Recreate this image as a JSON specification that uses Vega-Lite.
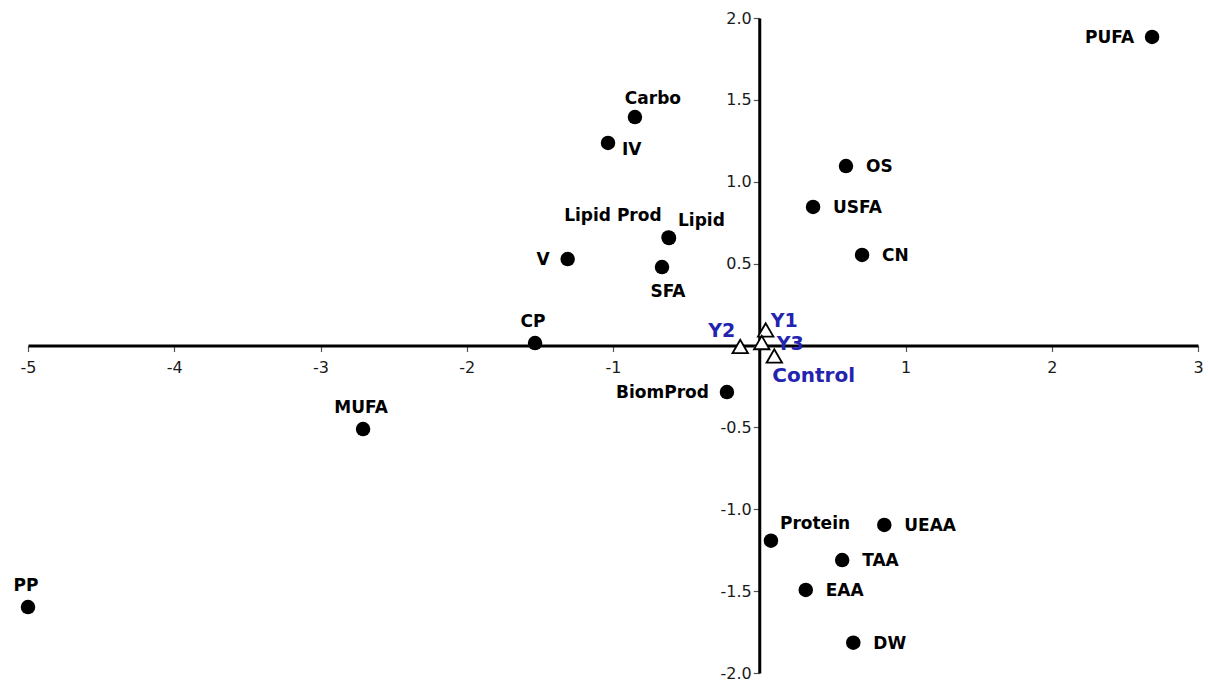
{
  "$schema": "https://vega.github.io/schema/vega-lite/v6.json",
  "autosize": "none",
  "width": 1170,
  "height": 655,
  "padding": {"left": 28, "top": 18, "right": 10, "bottom": 11},
  "background": "white",
  "config": {
    "view": {"stroke": null},
    "text": {"font": "DejaVu Sans", "fontWeight": "bold", "fontSize": 17, "color": "black", "baseline": "middle"}
  },
  "data": {
    "values": [
      {"name": "PUFA", "x": 2.686, "y": 1.884, "group": "variable"},
      {"name": "Carbo", "x": -0.850, "y": 1.395, "group": "variable"},
      {"name": "IV", "x": -1.034, "y": 1.237, "group": "variable"},
      {"name": "OS", "x": 0.593, "y": 1.096, "group": "variable"},
      {"name": "USFA", "x": 0.368, "y": 0.846, "group": "variable"},
      {"name": "Lipid", "x": -0.617, "y": 0.656, "group": "variable"},
      {"name": "Lipid Prod", "x": -0.62, "y": 0.66, "group": "variable"},
      {"name": "V", "x": -1.31, "y": 0.528, "group": "variable"},
      {"name": "SFA", "x": -0.665, "y": 0.479, "group": "variable"},
      {"name": "CN", "x": 0.703, "y": 0.553, "group": "variable"},
      {"name": "CP", "x": -1.533, "y": 0.015, "group": "variable"},
      {"name": "BiomProd", "x": -0.221, "y": -0.284, "group": "variable"},
      {"name": "MUFA", "x": -2.709, "y": -0.510, "group": "variable"},
      {"name": "PP", "x": -5.0, "y": -1.597, "group": "variable"},
      {"name": "Protein", "x": 0.080, "y": -1.192, "group": "variable"},
      {"name": "UEAA", "x": 0.855, "y": -1.096, "group": "variable"},
      {"name": "TAA", "x": 0.567, "y": -1.310, "group": "variable"},
      {"name": "EAA", "x": 0.318, "y": -1.493, "group": "variable"},
      {"name": "DW", "x": 0.643, "y": -1.815, "group": "variable"},
      {"name": "Y1", "x": 0.044, "y": 0.095, "group": "treatment"},
      {"name": "Y2", "x": -0.13, "y": -0.006, "group": "treatment"},
      {"name": "Y3", "x": 0.017, "y": 0.018, "group": "treatment"},
      {"name": "Control", "x": 0.103, "y": -0.064, "group": "treatment"}
    ]
  },
  "encoding": {
    "x": {
      "field": "x", "type": "quantitative",
      "scale": {"domain": [-5, 3], "nice": false, "zero": false},
      "axis": {
        "title": null, "grid": false, "orient": "bottom", "offset": -327.5,
        "values": [-5, -4, -3, -2, -1, 0, 1, 2, 3],
        "labelExpr": "datum.value == 0 ? '' : datum.value + ''",
        "domainColor": "black", "domainWidth": 3,
        "tickColor": "#555", "tickWidth": 1.2, "tickSize": 6,
        "labelFont": "DejaVu Sans", "labelFontSize": 16, "labelColor": "#1a1a1a",
        "labelPadding": 8, "labelFlush": false, "labelOverlap": false
      }
    },
    "y": {
      "field": "y", "type": "quantitative",
      "scale": {"domain": [-2, 2], "nice": false, "zero": false},
      "axis": {
        "title": null, "grid": false, "orient": "left", "offset": -731.25,
        "values": [-2, -1.5, -1, -0.5, 0, 0.5, 1, 1.5, 2],
        "labelExpr": "datum.value == 0 ? '' : (datum.value % 1 == 0 ? datum.value + '.0' : datum.value + '')",
        "domainColor": "black", "domainWidth": 3,
        "tickColor": "#555", "tickWidth": 1.2, "tickSize": 6,
        "labelFont": "DejaVu Sans", "labelFontSize": 16, "labelColor": "#1a1a1a",
        "labelPadding": 2, "labelFlush": false, "labelOverlap": false
      }
    }
  },
  "layer": [
    {
      "transform": [{"filter": "datum.group == 'variable'"}],
      "mark": {"type": "circle", "size": 210, "color": "black", "opacity": 1}
    },
    {
      "transform": [{"filter": "datum.group == 'treatment'"}],
      "mark": {"type": "point", "shape": "triangle-up", "size": 240, "filled": true, "fill": "white", "stroke": "black", "strokeWidth": 1.8, "opacity": 1}
    },
    {
      "transform": [{"filter": {"field": "name", "oneOf": ["OS", "USFA", "CN", "UEAA", "TAA", "EAA", "DW"]}}],
      "mark": {"type": "text", "align": "left", "dx": 20, "dy": 1},
      "encoding": {"text": {"field": "name"}}
    },
    {
      "transform": [{"filter": {"field": "name", "oneOf": ["IV"]}}],
      "mark": {"type": "text", "align": "left", "dx": 14, "dy": 7},
      "encoding": {"text": {"field": "name"}}
    },
    {
      "transform": [{"filter": {"field": "name", "oneOf": ["PUFA", "V", "BiomProd"]}}],
      "mark": {"type": "text", "align": "right", "dx": -18, "dy": 1},
      "encoding": {"text": {"field": "name"}}
    },
    {
      "transform": [{"filter": {"field": "name", "oneOf": ["CP", "MUFA", "PP"]}}],
      "mark": {"type": "text", "align": "center", "dx": -2, "dy": -21},
      "encoding": {"text": {"field": "name"}}
    },
    {
      "transform": [{"filter": {"field": "name", "oneOf": ["Carbo"]}}],
      "mark": {"type": "text", "align": "center", "dx": 18, "dy": -18},
      "encoding": {"text": {"field": "name"}}
    },
    {
      "transform": [{"filter": {"field": "name", "oneOf": ["Lipid", "Protein"]}}],
      "mark": {"type": "text", "align": "left", "dx": 9, "dy": -17},
      "encoding": {"text": {"field": "name"}}
    },
    {
      "transform": [{"filter": {"field": "name", "oneOf": ["Lipid Prod"]}}],
      "mark": {"type": "text", "align": "right", "dx": -7, "dy": -21},
      "encoding": {"text": {"field": "name"}}
    },
    {
      "transform": [{"filter": {"field": "name", "oneOf": ["SFA"]}}],
      "mark": {"type": "text", "align": "center", "dx": 6, "dy": 25},
      "encoding": {"text": {"field": "name"}}
    },
    {
      "transform": [{"filter": {"field": "name", "oneOf": ["Y1"]}}],
      "mark": {"type": "text", "align": "left", "dx": 5, "dy": -9, "fontSize": 19, "color": "#2323b0"},
      "encoding": {"text": {"field": "name"}}
    },
    {
      "transform": [{"filter": {"field": "name", "oneOf": ["Y2"]}}],
      "mark": {"type": "text", "align": "right", "dx": -5, "dy": -15, "fontSize": 19, "color": "#2323b0"},
      "encoding": {"text": {"field": "name"}}
    },
    {
      "transform": [{"filter": {"field": "name", "oneOf": ["Y3"]}}],
      "mark": {"type": "text", "align": "left", "dx": 15, "dy": 1, "fontSize": 19, "color": "#2323b0"},
      "encoding": {"text": {"field": "name"}}
    },
    {
      "transform": [{"filter": {"field": "name", "oneOf": ["Control"]}}],
      "mark": {"type": "text", "align": "left", "dx": -2, "dy": 20, "fontSize": 20, "color": "#2323b0"},
      "encoding": {"text": {"field": "name"}}
    }
  ]
}
